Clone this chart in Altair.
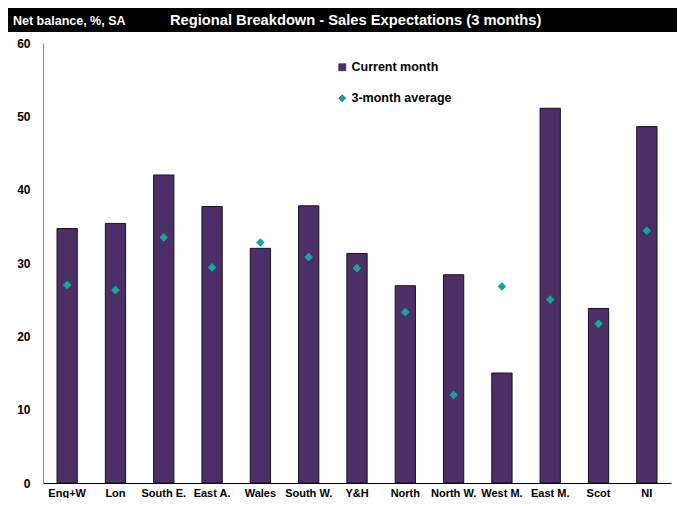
import altair as alt
import pandas as pd

regions = ["Eng+W", "Lon", "South E.", "East A.", "Wales", "South W.", "Y&H",
           "North", "North W.", "West M.", "East M.", "Scot", "NI"]
current = [34.7, 35.4, 42.0, 37.7, 32.0, 37.8, 31.3, 26.9, 28.4, 15.0, 51.1, 23.8, 48.6]
avg3 = [27.0, 26.3, 33.5, 29.4, 32.8, 30.8, 29.3, 23.3, 12.0, 26.8, 25.0, 21.7, 34.4]
series = ["Current month", "3-month average"]

FONT = "Liberation Sans"
PURPLE = "#4B2F66"
TEAL = "#12A89E"

rows = []
for r, c, a in zip(regions, current, avg3):
    rows.append({"region": r, "series": series[0], "value": c})
    rows.append({"region": r, "series": series[1], "value": a})
df = pd.DataFrame(rows)

base = alt.Chart(df)

xenc = alt.X("region:N", sort=regions, title=None,
             scale=alt.Scale(paddingInner=0.58, paddingOuter=0.29),
             axis=alt.Axis(labelAngle=0, ticks=False, domainColor="#000000",
                           labelFont=FONT, labelFontSize=11, labelFontWeight="bold",
                           labelColor="#000000", labelPadding=4))
yenc = alt.Y("value:Q", title=None,
             scale=alt.Scale(domain=[0, 60], nice=False),
             axis=alt.Axis(values=[0, 10, 20, 30, 40, 50, 60], ticks=False, grid=False,
                           domainColor="#888888", labelFont=FONT, labelFontSize=12,
                           labelFontWeight="bold", labelColor="#000000", labelPadding=13))

leg = dict(orient="none", legendX=293, legendY=18,
           labelFont=FONT, labelFontSize=12.5, labelFontWeight="bold",
           labelColor="#000000", rowPadding=18, symbolSize=50,
           symbolStrokeWidth=0.5, labelOffset=3)
color = alt.Color("series:N", title=None,
                  scale=alt.Scale(domain=series, range=[PURPLE, TEAL]),
                  legend=alt.Legend(**leg))
shape = alt.Shape("series:N", title=None,
                  scale=alt.Scale(domain=series, range=["square", "diamond"]),
                  legend=alt.Legend(**leg))

bars = base.transform_filter(alt.datum.series == series[0]).mark_bar(
    stroke="#1a1026", strokeWidth=1).encode(x=xenc, y=yenc, color=color, shape=shape)

pts = base.transform_filter(alt.datum.series == series[1]).mark_point(
    filled=True, size=75, opacity=1).encode(x=xenc, y=yenc, color=color, shape=shape)

header = alt.Chart(pd.DataFrame({"a": [0]})).mark_rect(color="#000000", clip=False).encode(
    x=alt.value(-35), x2=alt.value(634), y=alt.value(-35), y2=alt.value(-11))

left_txt = alt.Chart(pd.DataFrame({"t": ["Net balance, %, SA"]})).mark_text(
    font=FONT, fontSize=12.5, fontWeight="bold", color="#ffffff", align="left",
    baseline="middle", clip=False).encode(text="t:N", x=alt.value(-30), y=alt.value(-22))

title_txt = alt.Chart(pd.DataFrame({"t": ["Regional Breakdown - Sales Expectations (3 months)"]})).mark_text(
    font=FONT, fontSize=14.7, fontWeight="bold", color="#ffffff", align="left",
    baseline="middle", clip=False).encode(text="t:N", x=alt.value(127), y=alt.value(-22))

chart = alt.layer(header, left_txt, title_txt, bars, pts).properties(
    width=628, height=440,
    autosize=alt.AutoSizeParams(type="none"),
    padding={"left": 35, "top": 35, "right": 6, "bottom": 15},
).configure_view(stroke=None)

chart.save("out.html", embed_options={"renderer": "svg", "actions": False})
